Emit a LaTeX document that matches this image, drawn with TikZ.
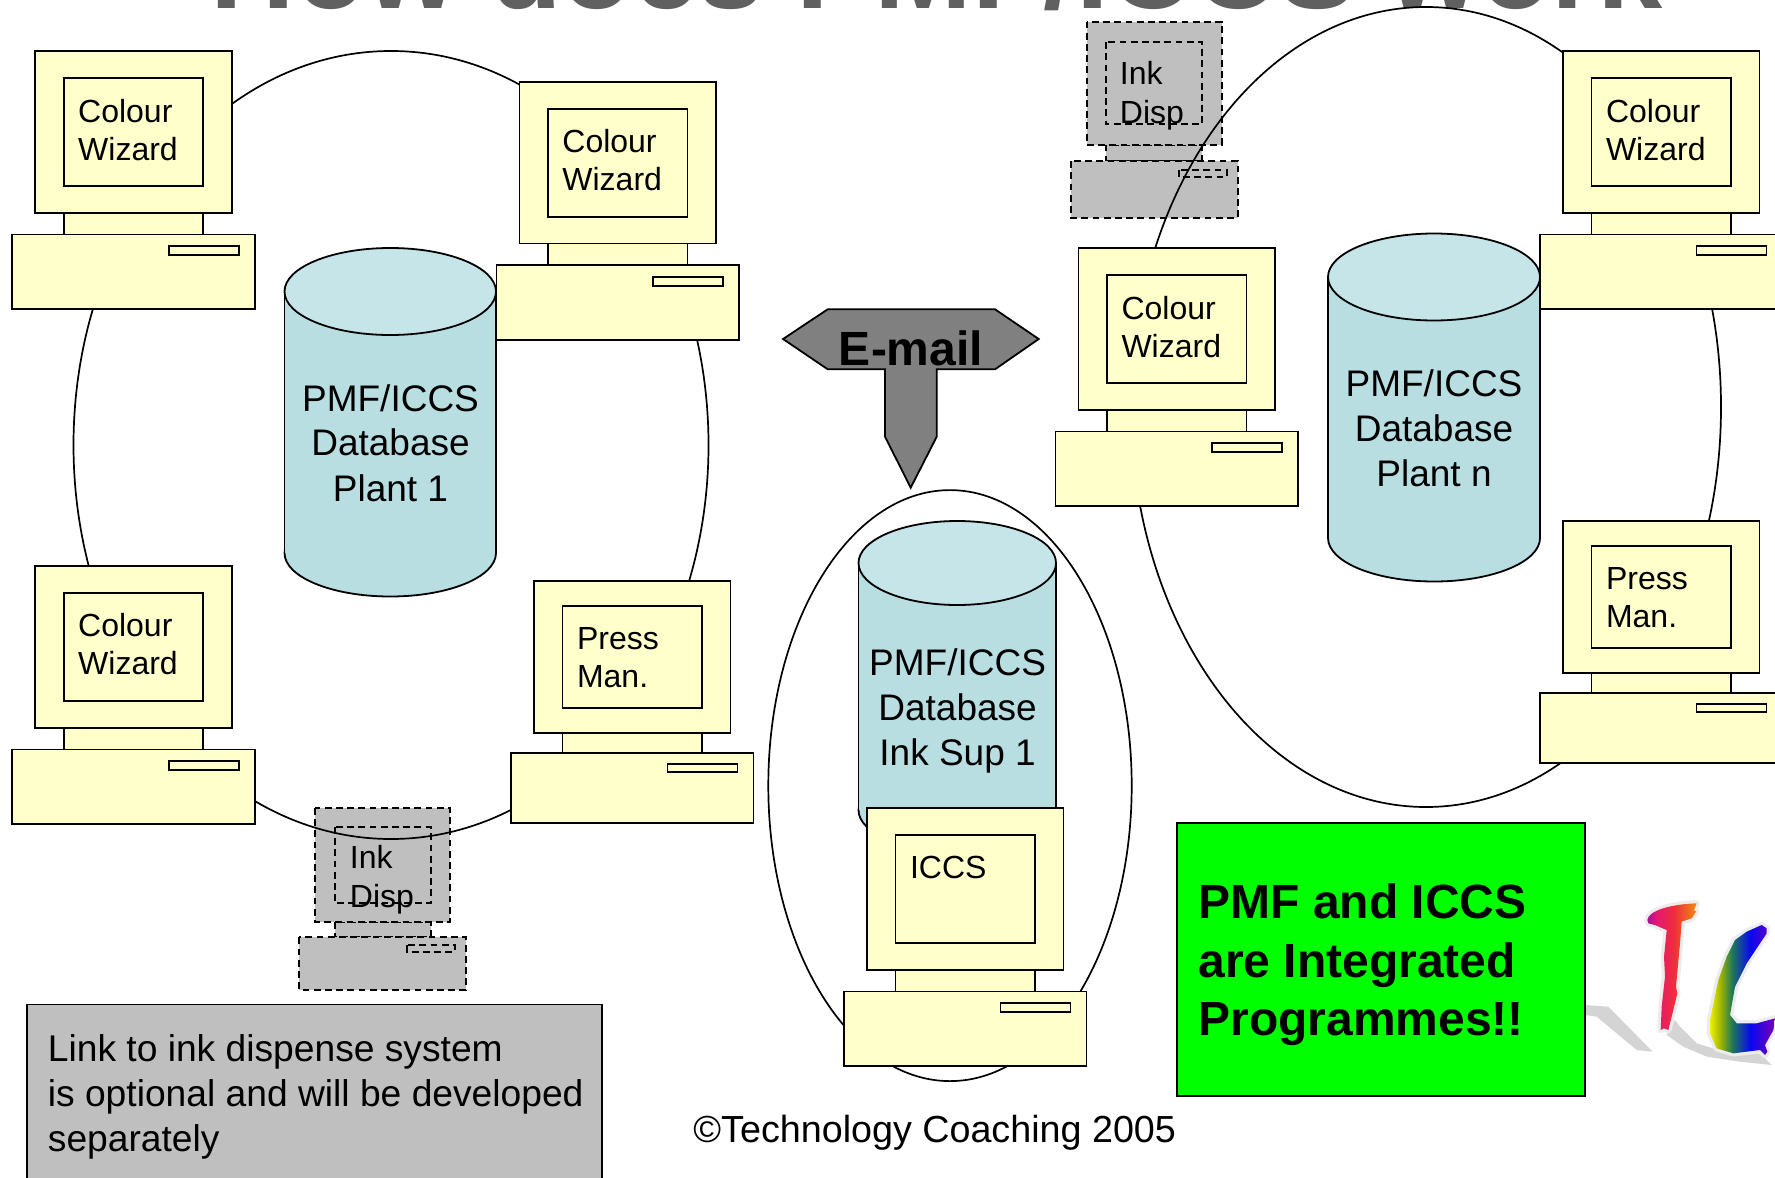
\documentclass[tikz,border=0pt]{standalone}
\usepackage{fontspec}
\setmainfont{Liberation Sans}
\definecolor{crt}{HTML}{FFFFCC}
\definecolor{cylbody}{HTML}{B8DEE2}
\definecolor{cyltop}{HTML}{C6E5E8}
\definecolor{inkgrey}{HTML}{BFBFBF}
\definecolor{titlegrey}{HTML}{606060}
\definecolor{halo}{HTML}{ECECEC}
\definecolor{shadowgrey}{HTML}{D4D4D4}
\definecolor{liA}{HTML}{A8109A}
\definecolor{liB}{HTML}{E8186E}
\definecolor{liC}{HTML}{EE2E3C}
\definecolor{liD}{HTML}{F28A10}
\definecolor{lcA}{HTML}{EEF200}
\definecolor{lcB}{HTML}{A0B400}
\definecolor{lcC}{HTML}{1E7858}
\definecolor{lcD}{HTML}{0808F0}
\definecolor{lcE}{HTML}{7A00B8}
\pgfdeclarehorizontalshading{logoI}{100bp}{color(0bp)=(liA); color(25bp)=(liA); color(35bp)=(liB); color(52bp)=(liC); color(75bp)=(liD); color(100bp)=(liD)}
\pgfdeclarehorizontalshading{logoC}{100bp}{color(0bp)=(lcA); color(25bp)=(lcA); color(33bp)=(lcB); color(42bp)=(lcC); color(56bp)=(lcD); color(75bp)=(lcE); color(100bp)=(lcE)}
\tikzset{
  box/.style={draw=black,line width=0.9pt,fill=crt},
  inkbox/.style={draw=black,line width=1pt,fill=inkgrey,dash pattern=on 3.4pt off 2.2pt},
  ring/.style={draw=black,line width=0.85pt},
  lbl/.style={inner sep=0pt,anchor=base west,align=left,font=\fontsize{16}{19.25}\selectfont},
  big/.style={inner sep=0pt,anchor=base,font=\fontsize{18.5}{22.6}\selectfont},
  plain/.style={inner sep=0pt,anchor=base west,font=\fontsize{18.6}{22.3}\selectfont},
  strong/.style={inner sep=0pt,anchor=base west,font=\fontsize{24}{29}\selectfont\bfseries},
}
% #1 style, #2 x, #3 y, #4 xscale, #5 yscale
\newcommand{\pcshape}[5]{%
  \begin{scope}[shift={(#2,#3)},xscale=#4,yscale=#5]
    \path[#1] (28.5,161.7) rectangle (168,183.5);
    \path[#1] (-23,183.5) rectangle (219.4,258);
    \path[#1] (133.5,195) rectangle (203.5,204);
    \path[#1] (0,0) rectangle (196.4,161.7);
    \path[#1] (28.5,27) rectangle (168,135);
  \end{scope}}
% #1 node name, #2 x, #3 y, #4 yscale, #5 first line, #6 second line, #7 text shift
\newcommand{\pcunit}[7]{%
  \pcshape{box}{#2}{#3}{1}{#4}
  \node[lbl] (#1a) at (#2+42.6,#3+71+#7) {#5};
  \node[lbl] (#1b) at (#2+42.6,#3+109+#7) {#6};}
% #1 x0, #2 x1, #3 top, #4 bottom, #5 ry
\newcommand{\dbcyl}[5]{%
  \path[draw=black,line width=0.9pt,fill=cylbody] ({(#1+#2)/2},#4-#5) ellipse [x radius={(#2-#1)/2},y radius=#5];
  \path[fill=cylbody] (#1,#3+#5) rectangle (#2,#4-#5);
  \draw[line width=0.9pt] (#1,#3+#5) -- (#1,#4-#5) (#2,#3+#5) -- (#2,#4-#5);
  \path[draw=black,line width=0.9pt,fill=cyltop] ({(#1+#2)/2},#3+#5) ellipse [x radius={(#2-#1)/2},y radius=#5];}
\begin{document}
\begin{tikzpicture}[x=0.5pt,y=-0.5pt]
\useasboundingbox (0,0) rectangle (1775,1177);
\clip (0,0) rectangle (1775,1177);
\fill[white] (0,0) rectangle (1775,1177);
% title cut by the top edge
\node[inner sep=0pt,anchor=base west,text=titlegrey,font=\fontsize{58.6}{60}\selectfont\bfseries] (title) at (210,9) {How does PMF/ICCS work};
% ink dispense units (under the rings)
\pcshape{inkbox}{315}{808}{0.688}{0.705}
\node[lbl] (inkAa) at (349.5,868.5) {Ink};
\node[lbl] (inkAb) at (349.5,907) {Disp};
\pcshape{inkbox}{1086.7}{21.7}{0.688}{0.76}
\node[lbl] (inkBa) at (1119.5,85) {Ink};
\node[lbl] (inkBb) at (1119.5,123.5) {Disp};
% rings
\draw[ring] (391,445) ellipse [x radius=317.5,y radius=394];
\draw[ring] (950,785.6) ellipse [x radius=181.7,y radius=295.5];
\draw[ring] (1426,407) ellipse [x radius=295,y radius=400];
% databases
\dbcyl{284.5}{496}{248}{596.5}{43.5}
\node[big] (dbAa) at (390.5,411) {PMF/ICCS};
\node[big] (dbAb) at (390.5,455.5) {Database};
\node[big] (dbAc) at (390.5,501) {Plant 1};
\dbcyl{1328}{1540}{233.5}{581.5}{43.5}
\node[big] (dbBa) at (1434,396) {PMF/ICCS};
\node[big] (dbBb) at (1434,441.5) {Database};
\node[big] (dbBc) at (1434,486) {Plant n};
\dbcyl{858.5}{1056}{521}{852}{42}
\node[big] (dbCa) at (957.6,675) {PMF/ICCS};
\node[big] (dbCb) at (957.6,720.5) {Database};
\node[big] (dbCc) at (957.6,765) {Ink Sup 1};
% computers
\pcunit{pcA}{35.2}{51}{1}{Colour}{Wizard}{0}
\pcunit{pcB}{519.4}{81.7}{1}{Colour}{Wizard}{0}
\pcunit{pcC}{35.2}{566}{1}{Colour}{Wizard}{-0.5}
\pcunit{pcD}{534}{581}{0.938}{Press}{Man.}{-3}
\pcunit{pcE}{867}{808}{1}{ICCS}{}{-1}
\pcunit{pcF}{1078.5}{248}{1}{Colour}{Wizard}{0}
\pcunit{pcG}{1563}{51}{1}{Colour}{Wizard}{0}
\pcunit{pcH}{1563}{521}{0.938}{Press}{Man.}{-3}
% e-mail arrow
\path[draw=black,line width=0.9pt,fill=black!50] (783,339) -- (827.7,309.3) -- (995,309.3) -- (1038.7,339) -- (995,369.3) -- (936.7,369.3) -- (936.7,436.7) -- (910.7,487.7) -- (885,436.7) -- (885,369.3) -- (827.7,369.3) -- cycle;
\node[inner sep=0pt,anchor=base,font=\fontsize{24}{28}\selectfont\bfseries] (email) at (911,365) {E-mail};
% note
\path[draw=black,line width=0.9pt,fill=inkgrey] (27,1004.5) rectangle (602,1200);
\node[plain] (noteA) at (47.5,1061.5) {Link to ink dispense system};
\node[plain] (noteB) at (47.5,1106) {is optional and will be developed};
\node[plain] (noteC) at (47.5,1151) {separately};
% copyright
\node[inner sep=0pt,anchor=base west,font=\fontsize{18.85}{22}\selectfont] (copy) at (693,1142.5) {©Technology Coaching 2005};
% logo
\begin{scope}[shift={(1540,860)},x=0.1666667pt,y=-0.1666667pt]
  \fill[shadowgrey] (135,435) -- (205,440) -- (338,575) -- (290,570) -- (170,470) -- (135,465) -- cycle;
  \fill[shadowgrey] (405,480) -- (420,500) -- (470,550) -- (560,578) -- (660,580) -- (695,615) -- (600,605) -- (500,590) -- (430,560) -- (380,525) -- cycle;
  \def\logoIpath{(322,180) .. controls (325,150) and (400,132) .. (470,130) -- (462,150) -- (468,155) -- (455,175) -- (425,185) -- (420,250) -- (408,380) -- (412,400) -- (395,470) -- (385,510) -- (372,505) -- (362,510) -- (365,440) -- (375,350) -- (372,290) -- (380,210) -- (345,195) -- (325,190) -- cycle}
  \def\logoCpath{(680,205) -- (665,195) -- (620,215) -- (585,240) -- (560,290) -- (535,360) -- (510,480) -- (510,520) -- (530,565) -- (580,580) -- (660,570) -- (675,585) -- (682,575) -- (675,555) -- (700,510) -- (705,475) -- (650,490) -- (590,490) -- (570,465) -- (585,380) -- (620,310) -- (680,220) -- cycle}
  \draw[halo,line width=3.2pt,line join=round] \logoIpath;
  \draw[halo,line width=3.2pt,line join=round] \logoCpath;
  \shade[shading=logoI] \logoIpath;
  \shade[shading=logoC] \logoCpath;
\end{scope}
% green box
\path[draw=black,line width=1pt,fill=green] (1177,823) rectangle (1585,1096);
\node[strong] (greenA) at (1198,918) {PMF and ICCS};
\node[strong] (greenB) at (1198,977) {are Integrated};
\node[strong] (greenC) at (1198,1035) {Programmes!!};
\end{tikzpicture}
\end{document}
